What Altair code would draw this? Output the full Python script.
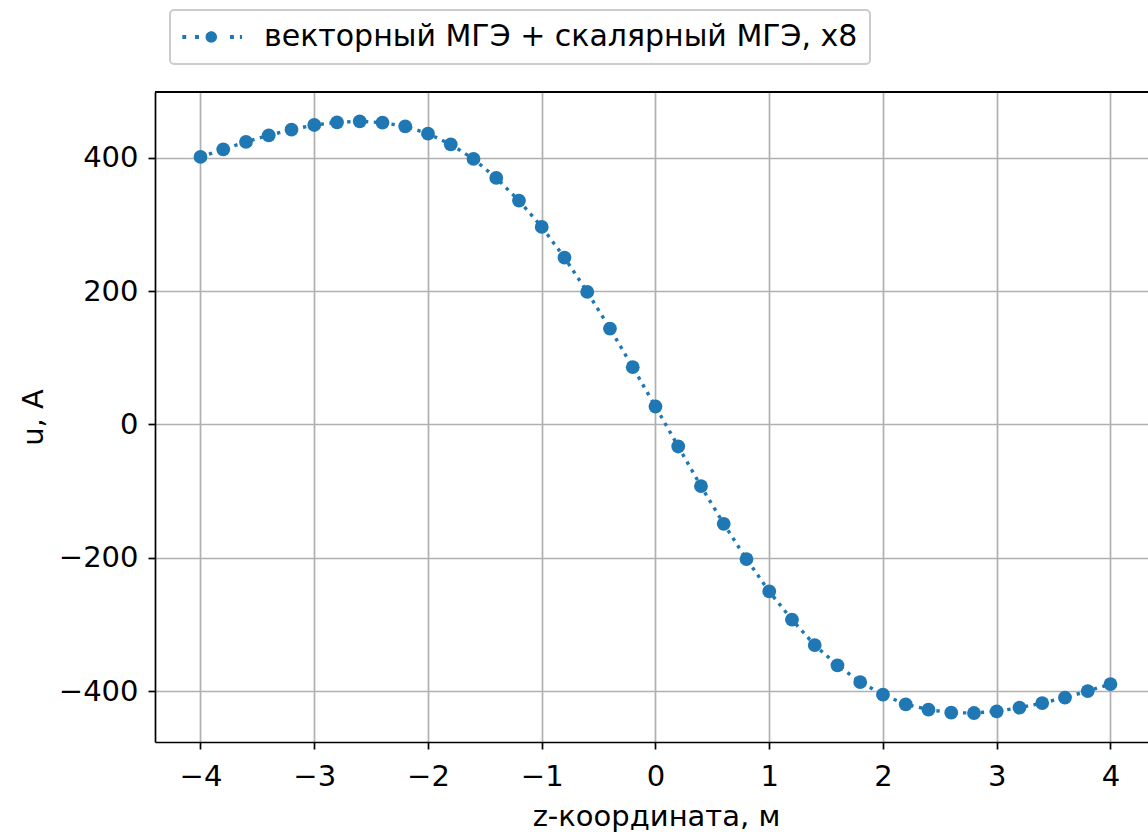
import altair as alt
import pandas as pd

# z-coordinate samples, m
z_values = [-4.0, -3.8, -3.6, -3.4, -3.2, -3.0, -2.8, -2.6, -2.4, -2.2,
            -2.0, -1.8, -1.6, -1.4, -1.2, -1.0, -0.8, -0.6, -0.4, -0.2,
            0.0, 0.2, 0.4, 0.6, 0.8, 1.0, 1.2, 1.4, 1.6, 1.8,
            2.0, 2.2, 2.4, 2.6, 2.8, 3.0, 3.2, 3.4, 3.6, 3.8, 4.0]

# u, A
u_values = [401.5, 413, 424, 434, 442.5, 449.5, 453.5, 455, 453, 447.5,
            436.5, 420.5, 398.5, 370, 336, 296.5, 250.5, 199, 144, 86,
            27, -33, -92.5, -149, -202, -250.5, -293, -331, -361.5, -386.5,
            -405.5, -420, -428, -432.5, -433, -430.5, -425, -418, -410, -400, -389.5]

series_label = "векторный МГЭ + скалярный МГЭ, x8"

x_ticks = [-4, -3, -2, -1, 0, 1, 2, 3, 4]
y_ticks = [-400, -200, 0, 200, 400]

BLUE = "#1f77b4"
FONT = "DejaVu Sans"
FS = 29
W, H = 993, 650

df = pd.DataFrame({"z": z_values, "u": u_values, "series": series_label})

x_enc = alt.X(
    "z:Q",
    scale=alt.Scale(domain=[-4.4, 4.33], nice=False, zero=False),
    axis=alt.Axis(values=x_ticks, format="d", title="z-координата, м", titleX=501),
)
y_enc = alt.Y(
    "u:Q",
    scale=alt.Scale(domain=[-476.5, 499], nice=False, zero=False),
    axis=alt.Axis(values=y_ticks, format="d", title="u, A"),
)

# dotted connecting line
line = alt.Chart(df).mark_line(
    color=BLUE, strokeWidth=3.4, strokeDash=[3.4, 5.5]
).encode(x=x_enc, y=y_enc)

# legend glyph: dotted segment with a round marker
glyph = (
    "M-1.13,-0.15H-0.83V0.15H-1.13Z"
    "M-0.15,-0.15H0.15V0.15H-0.15Z"
    "M2.54,-0.15H2.84V0.15H2.54Z"
    "M3.3,-0.15H3.46V0.15H3.3Z"
    "M0.66,0A0.44,0.44,0,1,0,1.54,0A0.44,0.44,0,1,0,0.66,0Z"
)

points = alt.Chart(df).mark_circle(size=190, opacity=1).encode(
    x=x_enc,
    y=y_enc,
    color=alt.Color(
        "series:N",
        scale=alt.Scale(domain=[series_label], range=[BLUE]),
        legend=alt.Legend(
            title=None,
            orient="none",
            legendX=15,
            legendY=-82,
            fillColor="white",
            symbolType=glyph,
            symbolSize=676,
            symbolStrokeWidth=0,
            labelOffset=52,
            labelFont=FONT,
            labelFontSize=30,
            labelColor="black",
            labelLimit=900,
        ),
    ),
)

# top frame edge
top_spine = alt.Chart(df).mark_rule(color="black", strokeWidth=1.7).encode(
    x=alt.value(0), x2=alt.value(W), y=alt.value(0)
)

chart = (
    alt.layer(line, points, top_spine)
    .properties(
        width=W,
        height=H,
        autosize=alt.AutoSizeParams(type="none"),
        padding={"left": 155, "top": 92, "right": 0, "bottom": 90},
        background="white",
    )
    .configure_view(strokeWidth=0)
    .configure_legend(
        padding=12,
        strokeColor="#cccccc",
        strokeWidth=2,
        cornerRadius=4,
    )
    .configure_axis(
        labelFont=FONT,
        labelFontSize=FS,
        labelColor="black",
        titleFont=FONT,
        titleFontSize=FS,
        titleFontWeight="normal",
        titleColor="black",
        domainColor="black",
        domainWidth=1.7,
        tickColor="black",
        tickWidth=1.7,
        tickSize=7,
        grid=True,
        gridColor="#b0b0b0",
        gridWidth=1.7,
        labelPadding=10,
        titlePadding=10,
    )
    .configure_axisX(labelPadding=13, titlePadding=11)
)

chart.save("out.html", embed_options={"renderer": "svg", "actions": False})
